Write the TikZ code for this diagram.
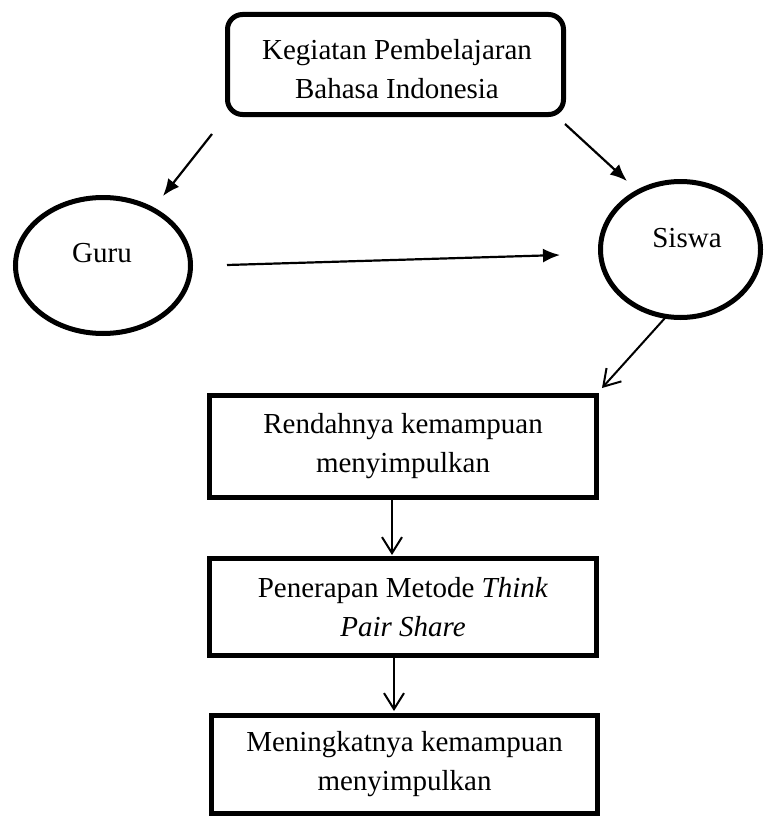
\documentclass[tikz,border=0pt]{standalone}
\usepackage{fontspec}
\setmainfont{Liberation Serif}
\usetikzlibrary{shapes.geometric,arrows.meta}
\begin{document}
\begin{tikzpicture}[x=1pt,y=-1pt,
  txt/.style={font=\fontsize{29}{39}\selectfont, align=center, inner sep=0pt},
  thickbox/.style={draw, line width=5pt, minimum width=387pt, inner sep=0pt, txt},
  oval/.style={draw, ellipse, line width=5pt, inner sep=0pt},
  filled/.style={line width=2.2pt, -{Latex[length=17pt,width=14pt]}},
  openarr/.style={line width=2pt, -{Straight Barb[length=16pt,width=20pt,line width=2pt]}}]
\useasboundingbox (0,0) rectangle (765,816);
% top box
\node[thickbox, rounded corners=15pt, minimum width=336pt, minimum height=100pt] (top) at (395.5,64.5) {};
\node[txt] (toptext) at (397,69) {Kegiatan Pembelajaran\\Bahasa Indonesia};
% ellipses
\node[oval, minimum width=175pt, minimum height=136pt] (guru) at (103,265.5) {};
\node[txt] (gurutext) at (102,253) {Guru};
\node[oval, minimum width=160pt, minimum height=136pt] (siswa) at (680.5,249.5) {};
\node[txt] (siswatext) at (687,238) {Siswa};
% boxes
\node[thickbox, minimum height=102pt] (b1) at (403,446.5) {Rendahnya kemampuan\\menyimpulkan};
\node[thickbox, minimum height=97pt] (b2) at (403,607) {Penerapan Metode \textit{Think}\\\textit{Pair Share}};
\node[thickbox, minimum width=386pt, minimum height=98pt] (b3) at (404.5,764.5) {Meningkatnya kemampuan\\menyimpulkan};
% arrow end points
\coordinate (a1s) at (212,134);
\coordinate (a1e) at (163,196);
\coordinate (a2s) at (565,124);
\coordinate (a2e) at (627,181);
\coordinate (a3s) at (227,265);
\coordinate (a3e) at (560,255);
\coordinate (a4s) at (665,318);
\coordinate (a4e) at (602,388);
\coordinate (a5s) at (392,500);
\coordinate (a5e) at (392,555);
\coordinate (a6s) at (394,658);
\coordinate (a6e) at (394,711);
\draw[filled] (a1s) -- (a1e);
\draw[filled] (a2s) -- (a2e);
\draw[filled] (a3s) -- (a3e);
\draw[openarr] (a4s) -- (a4e);
\draw[openarr] (a5s) -- (a5e);
\draw[openarr] (a6s) -- (a6e);
\end{tikzpicture}
\end{document}
